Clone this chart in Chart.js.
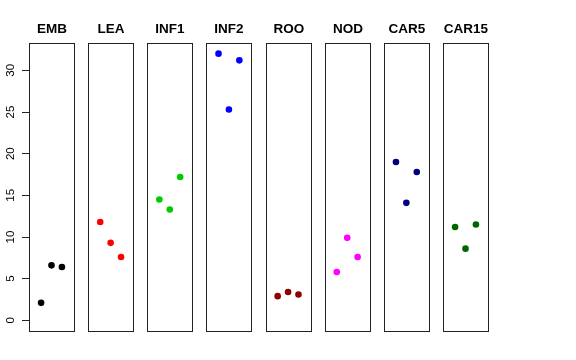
<!DOCTYPE html>
<html>
<head>
<meta charset="utf-8">
<script src="https://cdn.jsdelivr.net/npm/chart.js@4"></script>
<style>
  html, body { margin: 0; padding: 0; background: #fff; }
  canvas { display: block; }
</style>
</head>
<body>
<canvas id="chart" width="576" height="360"></canvas>
<script>
// Panels and the three replicate values per panel
const panels = ['EMB', 'LEA', 'INF1', 'INF2', 'ROO', 'NOD', 'CAR5', 'CAR15'];
const rep1 = [2.1, 11.8, 14.5, 32.0, 2.9, 5.8, 19.0, 11.2];
const rep2 = [6.6, 9.3, 13.3, 25.3, 3.4, 9.9, 14.1, 8.6];
const rep3 = [6.4, 7.6, 17.2, 31.2, 3.1, 7.6, 17.8, 11.5];
const yTicks = [0, 5, 10, 15, 20, 25, 30];

const colors = ['#000000', '#ff0000', '#00cd00', '#0000ff', '#8b0000', '#ff00ff', '#000080', '#006400'];

// each panel spans -0.16..4.16 in its own units, panels separated by a gap
const PANEL_LO = -0.16, PANEL_HI = 4.16, STEP = 5.68;
const FONT = '"Liberation Sans", Arial, Helvetica, sans-serif';

const datasets = panels.map((name, i) => ({
  label: name,
  data: [rep1[i], rep2[i], rep3[i]].map((v, j) => ({ x: i * STEP + j + 1, y: v })),
  backgroundColor: colors[i],
  borderColor: colors[i],
  pointRadius: 3.3,
  borderWidth: 0
}));

// boxes, panel titles and rotated y labels
const panelPlugin = {
  id: 'panels',
  afterDatasetsDraw(chart) {
    const { ctx, chartArea, scales } = chart;
    ctx.save();
    ctx.strokeStyle = '#222';
    ctx.lineWidth = 1;
    panels.forEach((name, i) => {
      const l = Math.round(scales.x.getPixelForValue(i * STEP + PANEL_LO)) + 0.5;
      const r = Math.round(scales.x.getPixelForValue(i * STEP + PANEL_HI)) + 0.5;
      const t = Math.round(chartArea.top) + 0.5, b = Math.round(chartArea.bottom) + 0.5;
      ctx.strokeRect(l, t, r - l, b - t);
      ctx.fillStyle = '#000';
      ctx.font = 'bold 13.5px ' + FONT;
      ctx.textAlign = 'center';
      ctx.textBaseline = 'middle';
      ctx.fillText(name, (l + r) / 2, 29);
    });
    // y tick labels, rotated like R's default axis
    ctx.font = '11.5px ' + FONT;
    ctx.fillStyle = '#000';
    yTicks.forEach(v => {
      const y = scales.y.getPixelForValue(v);
      ctx.save();
      ctx.translate(11, y);
      ctx.rotate(-Math.PI / 2);
      ctx.textAlign = 'center';
      ctx.textBaseline = 'middle';
      ctx.fillText(String(v), 0, 0);
      ctx.restore();
    });
    ctx.restore();
  }
};

new Chart(document.getElementById('chart'), {
  type: 'scatter',
  data: { datasets },
  options: {
    responsive: false,
    animation: false,
    layout: { padding: { top: 43, bottom: 29, right: 88, left: 0 } },
    plugins: { legend: { display: false }, tooltip: { enabled: false } },
    scales: {
      x: {
        type: 'linear',
        min: PANEL_LO,
        max: (panels.length - 1) * STEP + PANEL_HI,
        display: false
      },
      y: {
        type: 'linear',
        min: -1.28,
        max: 33.28,
        afterBuildTicks: s => { s.ticks = yTicks.map(v => ({ value: v })); },
        afterFit: s => { s.width = 29; },
        ticks: { display: false },
        border: { display: false },
        grid: { drawOnChartArea: false, drawTicks: true, tickLength: 7, color: '#222' }
      }
    }
  },
  plugins: [panelPlugin]
});
</script>
</body>
</html>
